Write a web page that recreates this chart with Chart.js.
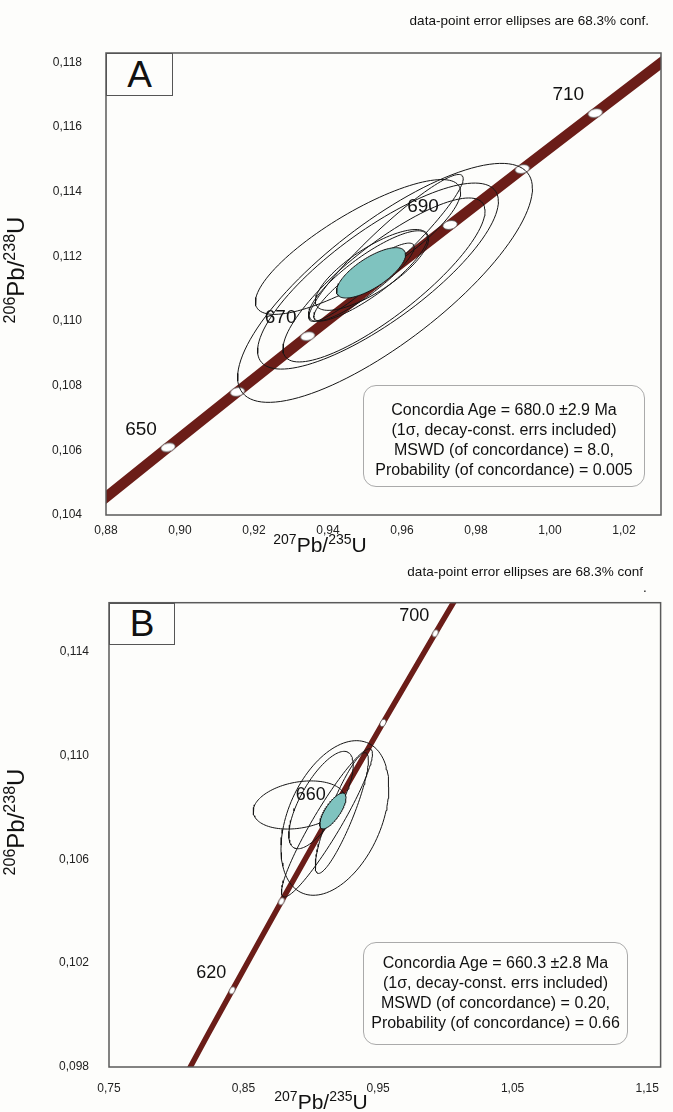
<!DOCTYPE html>
<html>
<head>
<meta charset="utf-8">
<script src="https://cdn.jsdelivr.net/npm/chart.js@4.4.1/dist/chart.umd.min.js"></script>
<style>
  body { margin: 0; background: #fdfdfb; font-family: 'Liberation Sans', Arial, sans-serif; color: #111; }
  #page { position: relative; width: 673px; height: 1112px; overflow: hidden; }
  .wrap { position: absolute; left: 0; width: 673px; }
  .note { position: absolute; font-size: 13.5px; white-space: nowrap; }
  .axt { position: absolute; font-size: 21px; white-space: nowrap; text-align: center; width: 200px; }
  .axt span { font-size: 14px; position: relative; top: -8px; }
  .rot { transform: rotate(-90deg); font-size: 24px; }
  .rot span { font-size: 16px; top: -9px; }
  .letter { position: absolute; border: 1.5px solid #555; box-sizing: border-box; background: #fdfdfb;
            font-size: 37px; text-align: center; }
  .stats { position: absolute; border: 1px solid #aaa; border-radius: 13px; box-sizing: border-box;
           text-align: center; line-height: 20px; font-size: 16px; }
</style>
</head>
<body>
<div id="page">
  <div class="wrap" style="top:0;height:560px"><canvas id="chartA"></canvas></div>
  <div class="wrap" style="top:560px;height:552px"><canvas id="chartB"></canvas></div>

  <div class="note" style="right:24px;top:13px">data-point error ellipses are 68.3% conf.</div>
  <div class="letter" style="left:106px;top:53px;width:67px;height:43px;line-height:41px">A</div>
  <div class="stats" style="left:363px;top:385px;width:282px;height:102px;padding-top:14px">
    Concordia Age = 680.0 ±2.9 Ma<br>(1σ, decay-const. errs included)<br>MSWD (of concordance) = 8.0,<br>Probability (of concordance) = 0.005
  </div>
  <div class="axt" style="left:220px;top:533px"><span>207</span>Pb/<span>235</span>U</div>
  <div class="axt rot" style="left:-84px;top:256px"><span>206</span>Pb/<span>238</span>U</div>

  <div class="note" style="right:30px;top:564px">data-point error ellipses are 68.3% conf</div>
  <div class="note" style="left:643px;top:580px">.</div>
  <div class="letter" style="left:109px;top:603px;width:66px;height:42px;line-height:40px">B</div>
  <div class="stats" style="left:363px;top:942px;width:265px;height:103px;padding-top:10px">
    Concordia Age = 660.3 ±2.8 Ma<br>(1σ, decay-const. errs included)<br>MSWD (of concordance) = 0.20,<br>Probability (of concordance) = 0.66
  </div>
  <div class="axt" style="left:221px;top:1090px"><span>207</span>Pb/<span>235</span>U</div>
  <div class="axt rot" style="left:-84px;top:808px"><span>206</span>Pb/<span>238</span>U</div>
</div>

<script>
// concordia curve (207Pb/235U, 206Pb/238U) at each age in Ma
const concAges = [600, 610, 620, 630, 640, 650, 660, 670, 680, 690, 700, 710, 720, 730];
const concX = [0.80563, 0.82350, 0.84155, 0.85977, 0.87818, 0.89677, 0.91554, 0.93450, 0.95365, 0.97298, 0.99251, 1.01223, 1.03214, 1.05226];
const concY = [0.09754, 0.09925, 0.10095, 0.10266, 0.10438, 0.10609, 0.10781, 0.10953, 0.11125, 0.11297, 0.11470, 0.11643, 0.11817, 0.11990];

// panel A
const markersA = [650, 660, 670, 680, 690, 700, 710];
const labelsA = [650, 670, 690, 710];
const xTicksA = [0.88, 0.90, 0.92, 0.94, 0.96, 0.98, 1.00, 1.02];
const yTicksA = [0.104, 0.106, 0.108, 0.110, 0.112, 0.114, 0.116, 0.118];
const ellA_x = [0.95541, 0.95351, 0.95514, 0.94811, 0.95568, 0.95081, 0.95189, 0.94973];
const ellA_y = [0.11118, 0.11139, 0.11127, 0.11229, 0.11226, 0.11139, 0.11158, 0.11121];
const ellA_sx = [0.03984, 0.03254, 0.02730, 0.02773, 0.02086, 0.01605, 0.01530, 0.01357];
const ellA_sy = [0.003696, 0.002877, 0.002536, 0.002085, 0.002273, 0.001401, 0.001250, 0.001200];
const ellA_rho = [0.790, 0.803, 0.840, 0.815, 0.943, 0.845, 0.773, 0.896];
const meanA = [0.95162, 0.11149, 0.00932, 0.000779, 0.724]; // x, y, sx, sy, rho

// panel B
const markersB = [620, 640, 660, 680, 700];
const labelsB = [620, 660, 700];
const xTicksB = [0.75, 0.85, 0.95, 1.05, 1.15];
const yTicksB = [0.098, 0.102, 0.106, 0.110, 0.114];
const ellB_x = [0.91789, 0.89139, 0.90758, 0.92305, 0.91200];
const ellB_y = [0.10759, 0.10809, 0.10828, 0.10778, 0.10740];
const ellB_sx = [0.04006, 0.03420, 0.02393, 0.01973, 0.03380];
const ellB_sy = [0.002977, 0.000927, 0.001876, 0.002326, 0.002854];
const ellB_rho = [0.400, 0.255, 0.719, 0.876, 0.935];
const meanB = [0.91642, 0.10786, 0.00979, 0.00069, 0.750];

Chart.defaults.font.family = "'Liberation Sans', Arial, sans-serif";
Chart.defaults.color = '#222';

function ellipsePts(cx, cy, sx, sy, rho) {
  const pts = [];
  const k = Math.sqrt(1 - rho * rho);
  for (let i = 0; i <= 120; i++) {
    const t = i / 120 * 2 * Math.PI;
    pts.push({ x: cx + sx * Math.cos(t), y: cy + sy * (rho * Math.cos(t) + k * Math.sin(t)) });
  }
  return pts;
}

function agePts(ages) {
  return ages.map(a => ({ x: concX[concAges.indexOf(a)], y: concY[concAges.indexOf(a)] }));
}

function markerImg(rx, ry, rot) {
  const c = document.createElement('canvas');
  c.width = 20; c.height = 20;
  const g = c.getContext('2d');
  g.beginPath();
  g.ellipse(10, 10, rx, ry, rot, 0, 2 * Math.PI);
  g.fillStyle = '#fff';
  g.fill();
  g.lineWidth = 0.8;
  g.strokeStyle = '#555';
  g.stroke();
  return c;
}

// frame round the plot area
const framePlugin = {
  id: 'frame',
  afterDatasetsDraw(chart) {
    const a = chart.chartArea, ctx = chart.ctx;
    ctx.save();
    ctx.strokeStyle = '#5a5a5a';
    ctx.lineWidth = 1.5;
    ctx.strokeRect(a.left, a.top, a.right - a.left, a.bottom - a.top);
    ctx.restore();
  }
};

// age numbers next to the concordia markers
const ageLabelPlugin = {
  id: 'ageLabels',
  afterDatasetsDraw(chart, args, opts) {
    const ctx = chart.ctx, xs = chart.scales.x, ys = chart.scales.y;
    ctx.save();
    ctx.font = opts.size + "px 'Liberation Sans', Arial, sans-serif";
    ctx.fillStyle = '#111';
    ctx.textAlign = 'center';
    ctx.textBaseline = 'middle';
    opts.ages.forEach(a => {
      const i = concAges.indexOf(a);
      ctx.fillText(String(a), xs.getPixelForValue(concX[i]) + opts.dx, ys.getPixelForValue(concY[i]) + opts.dy);
    });
    ctx.restore();
  }
};

function makeChart(id, cfg) {
  const datasets = [];
  datasets.push({
    data: concAges.map((a, i) => ({ x: concX[i], y: concY[i] })),
    showLine: true, borderColor: '#6b1d18', borderWidth: cfg.bandWidth,
    pointRadius: 0, order: 4
  });
  datasets.push({
    data: agePts(cfg.markers),
    pointStyle: cfg.marker, pointRadius: 6, order: 3
  });
  cfg.ex.forEach((v, i) => {
    datasets.push({
      data: ellipsePts(cfg.ex[i], cfg.ey[i], cfg.esx[i], cfg.esy[i], cfg.erho[i]),
      showLine: true, borderColor: '#151515', borderWidth: 1, pointRadius: 0, order: 2
    });
  });
  datasets.push({
    data: ellipsePts(cfg.mean[0], cfg.mean[1], cfg.mean[2], cfg.mean[3], cfg.mean[4]),
    showLine: true, fill: 'shape', backgroundColor: '#7fc3bf',
    borderColor: '#151515', borderWidth: 1, pointRadius: 0, order: 1
  });

  return new Chart(document.getElementById(id), {
    type: 'scatter',
    data: { datasets },
    options: {
      responsive: true,
      maintainAspectRatio: false,
      animation: false,
      events: [],
      layout: { padding: cfg.padding },
      plugins: {
        legend: { display: false },
        tooltip: { enabled: false },
        ageLabels: { ages: cfg.labels, dx: cfg.dx, dy: cfg.dy, size: cfg.labelSize }
      },
      scales: {
        x: {
          type: 'linear', min: cfg.xr[0], max: cfg.xr[1],
          grid: { display: false, drawTicks: false },
          border: { display: false },
          afterBuildTicks: s => { s.ticks = cfg.xTicks.map(v => ({ value: v })); },
          afterFit: s => { s.height = cfg.xh; },
          ticks: {
            padding: cfg.xpad, maxRotation: 0, autoSkip: false,
            font: { size: 12 },
            callback: v => v.toFixed(2).replace('.', ',')
          }
        },
        y: {
          type: 'linear', min: cfg.yr[0], max: cfg.yr[1],
          grid: { display: false, drawTicks: false },
          border: { display: false },
          afterBuildTicks: s => { s.ticks = cfg.yTicks.map(v => ({ value: v })); },
          afterFit: s => { s.width = cfg.yw; },
          ticks: {
            padding: cfg.ypad, autoSkip: false,
            font: { size: 12 },
            callback: v => v.toFixed(3).replace('.', ',')
          }
        }
      }
    },
    plugins: [framePlugin, ageLabelPlugin]
  });
}

makeChart('chartA', {
  markers: markersA, labels: labelsA, xTicks: xTicksA, yTicks: yTicksA,
  ex: ellA_x, ey: ellA_y, esx: ellA_sx, esy: ellA_sy, erho: ellA_rho, mean: meanA,
  xr: [0.88, 1.03], yr: [0.104, 0.11829],
  padding: { left: 0, top: 53, right: 12, bottom: 0 }, xh: 45, yw: 106, xpad: 8, ypad: 24,
  bandWidth: 10.5, marker: markerImg(7.3, 4.3, -0.2),
  dx: -27, dy: -18, labelSize: 19
});

makeChart('chartB', {
  markers: markersB, labels: labelsB, xTicks: xTicksB, yTicks: yTicksB,
  ex: ellB_x, ey: ellB_y, esx: ellB_sx, esy: ellB_sy, erho: ellB_rho, mean: meanB,
  xr: [0.75, 1.16], yr: [0.098, 0.11588],
  padding: { left: 0, top: 42.7, right: 6.5, bottom: 0 }, xh: 45, yw: 109, xpad: 14, ypad: 20,
  bandWidth: 5.5, marker: markerImg(2.6, 3.9, 0.45),
  dx: -21, dy: -17, labelSize: 18
});
</script>
</body>
</html>
